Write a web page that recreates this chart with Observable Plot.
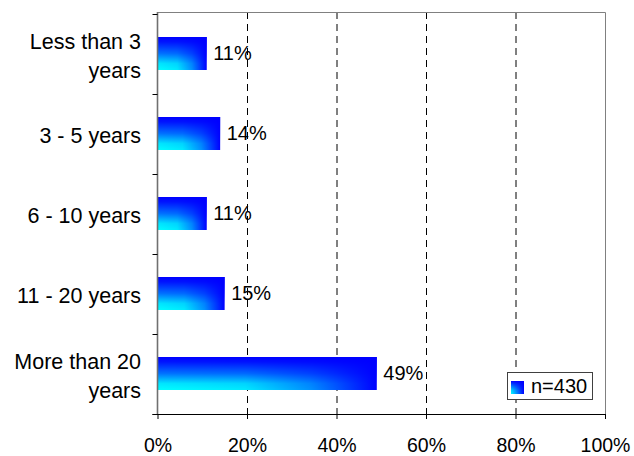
<!DOCTYPE html>
<html>
<head>
<meta charset="utf-8">
<script src="https://cdn.jsdelivr.net/npm/d3@7"></script>
<script src="https://cdn.jsdelivr.net/npm/@observablehq/plot@0.6"></script>
<style>
  body { margin: 0; background: #fff; font-family: "Liberation Sans", Arial, sans-serif; }
  #wrap { position: relative; width: 634px; height: 456px; }
  #legend { position: absolute; left: 507px; top: 372px; width: 86px; height: 28px; box-sizing: border-box;
            border: 1px solid #404040; background: #fff; }
  #legend .sw { position: absolute; left: 3px; top: 8px; width: 13px; height: 13px;
            background: linear-gradient(to bottom, rgba(0,0,255,1), rgba(0,0,255,0.15) 70%, rgba(0,0,255,0)),
                        linear-gradient(to right, #00ffff, #0000ff); }
  #legend .tx { position: absolute; left: 23px; top: 1px; font-size: 20px; line-height: 24px; color: #000; }
</style>
</head>
<body>
<div id="wrap"></div>
<script>
const categories = ["Less than 3\nyears", "3 - 5 years", "6 - 10 years", "11 - 20 years", "More than 20\nyears"];
const values = [0.11, 0.14, 0.11, 0.15, 0.49];
const valueLabels = ["11%", "14%", "11%", "15%", "49%"];
const xTicks = [0, 0.2, 0.4, 0.6, 0.8, 1];
const xTickLabels = ["0%", "20%", "40%", "60%", "80%", "100%"];
const gridTicks = [0.2, 0.4, 0.6, 0.8];
const legendLabel = "n=430";

const data = categories.map((c, i) => ({cat: c, value: values[i], label: valueLabels[i]}));

function frameMark(index, scales, vals, dims) {
  const g = d3.create("svg:g");
  const left = dims.marginLeft, right = dims.width - dims.marginRight;
  const top = dims.marginTop, bottom = dims.height - dims.marginBottom;
  g.append("path").attr("d", `M${left},${top + 0.5}H${right + 0.5}V${bottom}`)
    .attr("fill", "none").attr("stroke", "#808080").attr("stroke-width", 1);
  g.append("line").attr("x1", left).attr("x2", left).attr("y1", top).attr("y2", bottom)
    .attr("stroke", "#707070").attr("stroke-width", 1.6);
  g.append("line").attr("x1", left - 5).attr("x2", right + 0.5).attr("y1", bottom + 0.5).attr("y2", bottom + 0.5)
    .attr("stroke", "#000").attr("stroke-width", 1);
  const y = scales.y;
  const bw = typeof y.bandwidth === "function" ? y.bandwidth() : (y.bandwidth || 0);
  const step = y(categories[1]) - y(categories[0]);
  const bounds = categories.map(c => y(c) + bw / 2 - step / 2);
  bounds.push(bounds[bounds.length - 1] + step);
  for (const b of bounds) {
    g.append("line").attr("x1", left - 5).attr("x2", left).attr("y1", Math.round(b) + 0.5).attr("y2", Math.round(b) + 0.5)
      .attr("stroke", "#000").attr("stroke-width", 1);
  }
  return g.node();
}

const plot = Plot.plot({
  width: 634,
  height: 456,
  marginLeft: 157.5,
  marginRight: 29,
  marginTop: 12,
  marginBottom: 42,
  style: {fontFamily: "'Liberation Sans', Arial, sans-serif", color: "#000", background: "#fff", overflow: "visible"},
  x: {domain: [0, 1]},
  y: {domain: categories, paddingInner: 0.59, paddingOuter: 0.295, label: null},
  marks: [
    Plot.ruleX(gridTicks, {stroke: "#000", strokeDasharray: "7,5", strokeWidth: 1}),
    Plot.barX(data, {x: "value", y: "cat", fill: "url(#gh)"}),
    Plot.barX(data, {x: "value", y: "cat", fill: "url(#gv)"}),
    Plot.text(data, {x: "value", y: "cat", text: "label", textAnchor: "start", dx: 6, fontSize: 20, fill: "#000"}),
    Plot.axisX({ticks: xTicks, tickFormat: (d, i) => xTickLabels[xTicks.indexOf(d)], tickSize: 5, tickPadding: 19,
                fontSize: 19.5, label: null, stroke: "#000", fill: "#000"}),
    Plot.axisY({tickSize: 0, tickPadding: 17, fontSize: 21.5, lineHeight: 1.35, label: null, fill: "#000"}),
    frameMark
  ]
});

const svg = plot.tagName.toLowerCase() === "svg" ? plot : plot.querySelector("svg");
const defs = d3.select(svg).insert("defs", ":first-child");
const gh = defs.append("linearGradient").attr("id", "gh").attr("x1", 0).attr("y1", 0).attr("x2", 1).attr("y2", 0);
[[0, "#00ffff"], [0.4, "#00eaff"], [0.7, "#0090ff"], [1, "#0000ff"]].forEach(([o, c]) =>
  gh.append("stop").attr("offset", o).attr("stop-color", c));
const gv = defs.append("linearGradient").attr("id", "gv").attr("x1", 0).attr("y1", 0).attr("x2", 0).attr("y2", 1);
[[0, 1], [0.15, 0.92], [0.5, 0.55], [0.8, 0.1], [1, 0]].forEach(([o, a]) =>
  gv.append("stop").attr("offset", o).attr("stop-color", "#0000ff").attr("stop-opacity", a));

const wrap = document.getElementById("wrap");
wrap.appendChild(plot);
const legend = document.createElement("div");
legend.id = "legend";
legend.innerHTML = `<div class="sw"></div><div class="tx"></div>`;
legend.querySelector(".tx").textContent = legendLabel;
wrap.appendChild(legend);
</script>
</body>
</html>
